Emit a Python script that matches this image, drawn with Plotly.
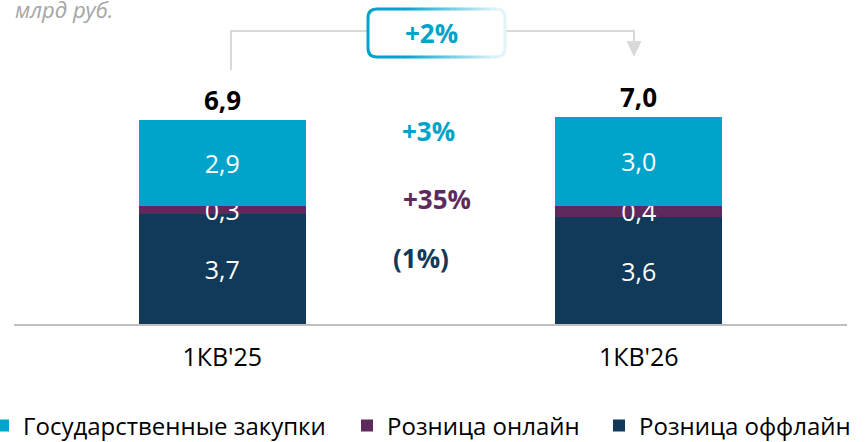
import plotly.graph_objects as go

# ---- data ----
categories = ["1КВ'25", "1КВ'26"]
offline = [3.7, 3.6]
online = [0.3, 0.4]
gov = [2.9, 3.0]
series_names = ["Розница оффлайн", "Розница онлайн", "Государственные закупки"]
change_labels = ["(1%)", "+35%", "+3%"]
total_change = "+2%"
unit_label = "млрд руб."

C_GOV = "#00A3C9"
C_ON = "#5E2A5E"
C_OFF = "#113A5A"
FONT = "Open Sans"

def fmt(v):
    return f"{v:.1f}".replace(".", ",")

totals = [a + b + c for a, b, c in zip(offline, online, gov)]

# plot-area geometry (pixels)
W, H = 865, 442
L, R, T, B = 14, 18, 10, 118
PW, PH = W - L - R, H - T - B

def px(x):
    return (x - L) / PW

def py(y):
    return (H - B - y) / PH

legend_ids = ["legend3", "legend2", "legend"]
fig = go.Figure()
for vals, name, col, lg in zip([offline, online, gov], series_names, [C_OFF, C_ON, C_GOV], legend_ids):
    fig.add_trace(go.Bar(
        x=categories, y=vals, name=name, marker=dict(color=col, line=dict(width=0)),
        width=0.4, text=[fmt(v) for v in vals], textposition="inside",
        insidetextanchor="middle", constraintext="none",
        textfont=dict(color="white", size=25, family=FONT),
        hoverinfo="skip", cliponaxis=False, legend=lg,
    ))

annotations = []
for c, t in zip(categories, totals):
    annotations.append(dict(x=c, y=t, xref="x", yref="y", text=f"<b>{fmt(t)}</b>",
                            showarrow=False, yanchor="bottom", xanchor="center", yshift=0,
                            font=dict(size=26, color="black", family=FONT)))

chg_pos = [(421, 258, C_OFF), (437, 199, C_ON), (428, 131, C_GOV)]
for lab, (cx, cy, col) in zip(change_labels, chg_pos):
    annotations.append(dict(x=px(cx), y=py(cy), xref="paper", yref="paper",
                            xanchor="center", yanchor="middle",
                            text=f"<b>{lab}</b>", showarrow=False,
                            font=dict(size=26, color=col, family=FONT)))

annotations.append(dict(x=px(431), y=py(33), xref="paper", yref="paper",
                        xanchor="center", yanchor="middle",
                        text=f"<b>{total_change}</b>", showarrow=False,
                        font=dict(size=26, color=C_GOV, family=FONT)))
annotations.append(dict(x=px(13), y=py(9), xref="paper", yref="paper",
                        text=f"<i>{unit_label}</i>", showarrow=False,
                        xanchor="left", yanchor="middle",
                        font=dict(size=22, color="#A6A6A6", family=FONT)))

shapes = []
GRAY = "#D9D9D9"
# bracket
shapes.append(dict(type="path", xref="paper", yref="paper",
                   path=f"M{px(231)},{py(70)} L{px(231)},{py(31)} L{px(634)},{py(31)} L{px(634)},{py(42)}",
                   line=dict(color=GRAY, width=2)))
shapes.append(dict(type="path", xref="paper", yref="paper",
                   path=f"M{px(626.5)},{py(41)} L{px(641.5)},{py(41)} L{px(634)},{py(57)} Z",
                   fillcolor=GRAY, line=dict(color=GRAY, width=0)))

# rounded box with gradient border
bx0, bx1, by0, by1, r = 368, 505, 9, 57, 9
shapes.append(dict(type="path", xref="paper", yref="paper",
                   path=(f"M{px(bx0+r)},{py(by0)} L{px(bx1-r)},{py(by0)} Q{px(bx1)},{py(by0)} {px(bx1)},{py(by0+r)} "
                         f"L{px(bx1)},{py(by1-r)} Q{px(bx1)},{py(by1)} {px(bx1-r)},{py(by1)} "
                         f"L{px(bx0+r)},{py(by1)} Q{px(bx0)},{py(by1)} {px(bx0)},{py(by1-r)} "
                         f"L{px(bx0)},{py(by0+r)} Q{px(bx0)},{py(by0)} {px(bx0+r)},{py(by0)} Z"),
                   fillcolor="white", line=dict(width=0), layer="above"))

def lerp(c1, c2, t):
    return "rgb(%d,%d,%d)" % tuple(round(a + (b - a) * t) for a, b in zip(c1, c2))

cA, cB = (0, 163, 201), (226, 243, 250)
LW = 3
# left side (solid)
shapes.append(dict(type="path", xref="paper", yref="paper",
                   path=(f"M{px(bx0+r)},{py(by0)} Q{px(bx0)},{py(by0)} {px(bx0)},{py(by0+r)} "
                         f"L{px(bx0)},{py(by1-r)} Q{px(bx0)},{py(by1)} {px(bx0+r)},{py(by1)}"),
                   line=dict(color=lerp(cA, cB, 0), width=LW)))
g0, g1 = 405, bx1 - r
N = 16
xs = [bx0 + r] + [g0 + (g1 - g0) * i / N for i in range(N + 1)]
for i in range(len(xs) - 1):
    xa, xb = xs[i], xs[i + 1]
    t = max(0.0, ((xa + xb) / 2 - g0) / (g1 - g0))
    col = lerp(cA, cB, min(1.0, t))
    for yy in (by0, by1):
        shapes.append(dict(type="line", xref="paper", yref="paper",
                           x0=px(xa - 0.3), x1=px(xb + 0.3), y0=py(yy), y1=py(yy),
                           line=dict(color=col, width=LW)))
shapes.append(dict(type="path", xref="paper", yref="paper",
                   path=(f"M{px(bx1-r)},{py(by0)} Q{px(bx1)},{py(by0)} {px(bx1)},{py(by0+r)} "
                         f"L{px(bx1)},{py(by1-r)} Q{px(bx1)},{py(by1)} {px(bx1-r)},{py(by1)}"),
                   line=dict(color=lerp(cA, cB, 1), width=LW)))

def leg(xpix):
    return dict(orientation="h", x=px(xpix), xanchor="left", y=py(426), yanchor="middle",
                font=dict(size=24, family=FONT, color="black"),
                itemwidth=30, bgcolor="rgba(0,0,0,0)")

fig.update_layout(
    width=W, height=H, margin=dict(l=L, r=R, t=T, b=B, autoexpand=False),
    paper_bgcolor="white", plot_bgcolor="white",
    barmode="stack", bargap=0.6,
    font=dict(family=FONT, color="black"),
    showlegend=True,
    legend=leg(-17), legend2=leg(347), legend3=leg(599),
    annotations=annotations, shapes=shapes,
    xaxis=dict(range=[-0.5, 1.5], showline=True, linecolor="#BFBFBF", linewidth=2,
               showgrid=False, zeroline=False, ticks="", ticklabelstandoff=10,
               automargin=False,
               tickfont=dict(size=25, family=FONT, color="black")),
    yaxis=dict(range=[0, PH / 29.62], visible=False, showgrid=False, zeroline=False,
               automargin=False),
)

fig.write_html("out.html", config={"displayModeBar": False},
               post_script="document.body.style.margin='0px';document.body.style.padding='0px';")
